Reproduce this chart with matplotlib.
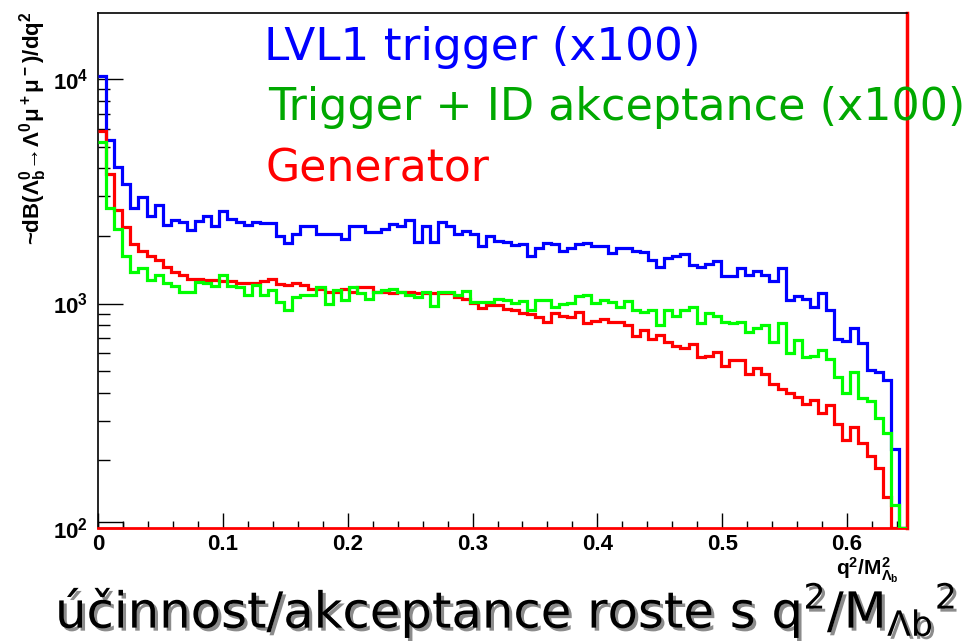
import numpy as np
import matplotlib
matplotlib.use('Agg')
import matplotlib.pyplot as plt
import matplotlib.patheffects as pe
from matplotlib.ticker import LogLocator, MultipleLocator, FuncFormatter, NullFormatter

plt.rcParams['font.family'] = ['Liberation Sans', 'DejaVu Sans']
plt.rcParams['font.weight'] = 'bold'
plt.rcParams['xtick.labelsize'] = 16
plt.rcParams['ytick.labelsize'] = 16
plt.rcParams['mathtext.fontset'] = 'custom'
plt.rcParams['mathtext.rm'] = 'DejaVu Sans:normal'
plt.rcParams['mathtext.it'] = 'DejaVu Sans:italic:normal'
plt.rcParams['mathtext.bf'] = 'Liberation Sans:bold'

# histogram binning in q^2/M^2
q2_min, q2_max, n_bins = 0.0, 0.648, 100

# LVL1 trigger (x100)
lvl1 = [10300, 5350, 4040, 3410, 2660, 2985, 2465, 2740, 2245, 2366,
        2300, 2123, 2343, 2450, 2223, 2571, 2382, 2318, 2245, 2318,
        2285, 2285, 2004, 1868, 2038, 2225, 2225, 2037, 2037, 2037,
        1932, 2225, 2225, 2074, 2074, 2148, 2260, 2225, 2366, 1880,
        2225, 1880, 2318, 2225, 2037, 2110, 2037, 1806, 2004, 1900,
        1880, 1818, 1838, 1630, 1775, 1868, 1838, 1715, 1775, 1850,
        1868, 1805, 1805, 1683, 1775, 1775, 1715, 1700, 1570, 1455,
        1600, 1630, 1655, 1490, 1455, 1505, 1545, 1330, 1330, 1440,
        1345, 1390, 1345, 1255, 1440, 1035, 1075, 1050, 967, 1110,
        935, 693, 680, 777, 668, 506, 494, 455, 224, 0]

# Trigger + ID akceptance (x100)
trig_id = [5240, 2670, 2148, 1637, 1377, 1440, 1275, 1335, 1232, 1197,
           1130, 1130, 1245, 1232, 1197, 1345, 1197, 1190, 1090, 1210,
           1090, 1148, 1018, 940, 1072, 1090, 1090, 1190, 1000, 1148,
           1035, 1190, 1110, 1050, 1130, 1148, 1157, 1130, 1090, 1072,
           1130, 973, 1130, 1130, 1090, 1140, 1018, 1018, 1018, 1043,
           1035, 1007, 1024, 940, 1035, 1035, 967, 1000, 1007, 1079,
           1090, 1007, 1035, 1018, 967, 1028, 940, 919, 940, 803,
           940, 880, 935, 967, 817, 904, 880, 831, 823, 831,
           744, 777, 803, 677, 823, 600, 690, 575, 585, 620,
           567, 469, 400, 494, 378, 368, 308, 264, 127, 0]

# Generator
generator = [5880, 3766, 2600, 2185, 1838, 1715, 1630, 1570, 1455, 1377,
             1345, 1284, 1284, 1275, 1275, 1254, 1254, 1232, 1232, 1232,
             1254, 1284, 1222, 1210, 1232, 1210, 1157, 1157, 1130, 1130,
             1157, 1130, 1181, 1181, 1130, 1130, 1110, 1130, 1130, 1110,
             1110, 1110, 1110, 1110, 1072, 1043, 1007, 960, 983, 983,
             950, 935, 910, 898, 874, 831, 904, 880, 874, 919,
             817, 840, 850, 831, 831, 803, 719, 764, 695, 727,
             677, 646, 634, 660, 575, 585, 608, 528, 563, 563,
             485, 517, 485, 438, 417, 400, 383, 355, 373, 325,
             352, 292, 247, 281, 239, 209, 186, 137, 0, 0]

# small black bin near the bottom left corner
extra_edges = [0.0, 0.02]
extra_vals = [106]

x_ticks = [0, 0.1, 0.2, 0.3, 0.4, 0.5, 0.6]
x_ticklabels = ['0', '0.1', '0.2', '0.3', '0.4', '0.5', '0.6']

ylo, yhi = 100, 19700
edges = np.linspace(q2_min, q2_max, n_bins + 1)

fig = plt.figure(figsize=(9.72, 6.41), dpi=100)
ax = fig.add_axes([98 / 972, 113 / 641, 809 / 972, 515 / 641])
ax.set_yscale('log')
ax.set_xlim(q2_min, q2_max)
ax.set_ylim(ylo, yhi)

for vals, col in [(lvl1, '#0000ff'), (generator, '#ff0000'), (trig_id, '#00ff00')]:
    v = np.maximum(np.asarray(vals, dtype=float), ylo)
    ax.stairs(v, edges, color=col, lw=2.3, baseline=None, zorder=3)

ax.stairs(extra_vals, extra_edges, baseline=ylo, color='black', lw=1.0, zorder=2)

# frame
for s in ['left', 'top']:
    ax.spines[s].set_color('black')
    ax.spines[s].set_linewidth(1.2)
ax.spines['bottom'].set_color('#ff0000')
ax.spines['bottom'].set_linewidth(2.0)
ax.spines['right'].set_color('#ff0000')
ax.spines['right'].set_linewidth(2.5)

# ticks
ax.set_xticks(x_ticks, labels=x_ticklabels)
ax.xaxis.set_minor_locator(MultipleLocator(0.02))
ax.yaxis.set_major_locator(LogLocator(base=10))
ax.yaxis.set_minor_locator(LogLocator(base=10, subs=np.arange(2, 10)))
ax.yaxis.set_major_formatter(FuncFormatter(lambda v, p: r'$\mathbf{10^{%d}}$' % round(np.log10(v))))
ax.yaxis.set_minor_formatter(NullFormatter())
ax.tick_params(which='both', direction='in', top=False, right=False, color='black', width=1.0)
ax.xaxis.set_tick_params(which='major', length=10.5, pad=4)
ax.xaxis.set_tick_params(which='minor', length=5)
ax.yaxis.set_tick_params(which='major', length=18, pad=7)
ax.yaxis.set_tick_params(which='minor', length=8.5)

# axis titles
fig.text(33 / 972, 1 - 12 / 641,
         r'~$\mathbf{dB(\Lambda_b^0\!\rightarrow\!\Lambda^0\mu^+\mu^-)/dq^2}$',
         rotation=90, ha='center', va='top', weight='bold', fontsize=16)
fig.text(899 / 972, 1 - 575 / 641, r'$\mathbf{q^2/M^2_{\Lambda_b}}$',
         ha='right', va='baseline', fontsize=15)

renderer = fig.canvas.get_renderer()


def fit_text(txt, width_px):
    w = txt.get_window_extent(renderer=renderer).width
    txt.set_fontsize(txt.get_fontsize() * width_px / w)


t1 = fig.text(264 / 972, 1 - 60 / 641, 'LVL1 trigger (x100)', color='#0000ff',
              family='DejaVu Sans', weight='normal', fontsize=30, ha='left', va='baseline')
fit_text(t1, 436)
t2 = fig.text(268 / 972, 1 - 120 / 641, 'Trigger + ID akceptance (x100)', color='#00a800',
              family='DejaVu Sans', weight='normal', fontsize=30, ha='left', va='baseline')
fit_text(t2, 697)
t3 = fig.text(265 / 972, 1 - 182 / 641, 'Generator', color='#ff0000',
              family='DejaVu Sans', weight='normal', fontsize=30, ha='left', va='baseline')
fit_text(t3, 224)

t4 = fig.text(55 / 972, 1 - 628 / 641,
              r'účinnost/akceptance roste s q$^2$/M$_{\Lambda\mathrm{b}}$$^2$',
              color='black', family='DejaVu Sans', weight='normal', fontsize=30,
              ha='left', va='baseline',
              path_effects=[pe.withSimplePatchShadow(offset=(2.2, -2.2),
                                                     shadow_rgbFace='#8c8c8c', alpha=1.0)])
fit_text(t4, 900)

fig.savefig('out.png', dpi=100)
